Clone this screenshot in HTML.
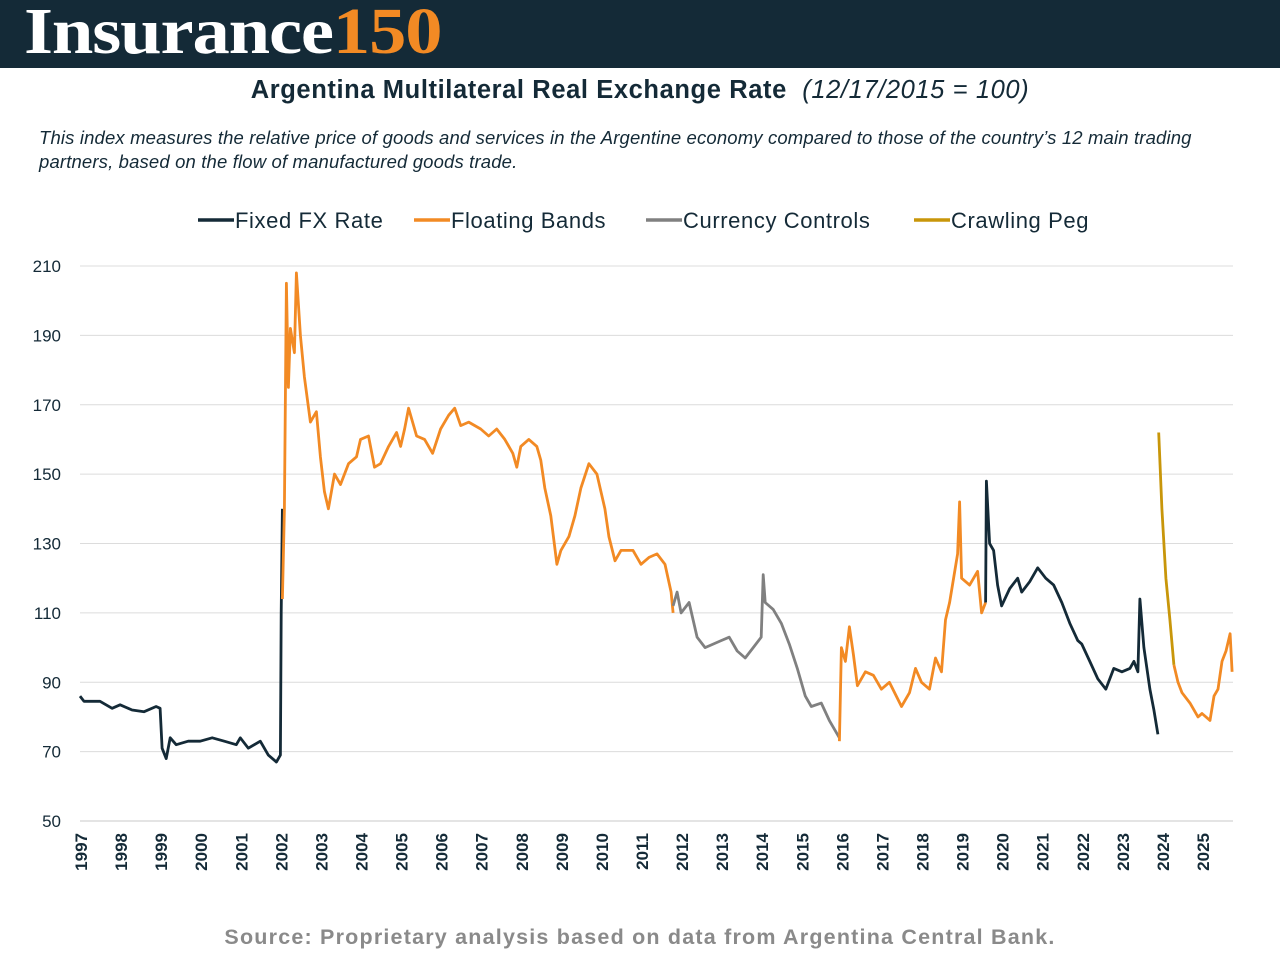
<!DOCTYPE html>
<html><head><meta charset="utf-8">
<style>
body{margin:0;width:1280px;height:960px;background:#fff;font-family:"Liberation Sans",sans-serif;overflow:hidden}
#hdr{position:absolute;left:0;top:0;width:1280px;height:68px;background:#142a37}
#logo{position:absolute;left:24px;top:-6px;font-family:"Liberation Serif",serif;font-weight:bold;font-size:66px;color:#fff;letter-spacing:-1px;transform:scaleX(1.13);transform-origin:left top}
#logo span{color:#f28a24}
#title{position:absolute;top:76px;left:0;width:1280px;text-align:center;font-size:25.5px;font-weight:bold;color:#142a37;letter-spacing:0.6px}
#title i{font-weight:normal}
#desc{position:absolute;top:126px;left:39px;width:1230px;font-size:18.5px;font-style:italic;color:#142a37;line-height:24px;letter-spacing:0.15px}
#src{position:absolute;top:925px;left:0;width:1280px;text-align:center;font-size:21.5px;font-weight:bold;color:#8a8a8a;letter-spacing:1.2px}
svg{position:absolute;left:0;top:0}
</style></head><body>
<div id="hdr"><div id="logo">Insurance<span>150</span></div></div>
<div id="title">Argentina Multilateral Real Exchange Rate &nbsp;<i>(12/17/2015 = 100)</i></div>
<div id="desc">This index measures the relative price of goods and services in the Argentine economy compared to those of the country’s 12 main trading<br>partners, based on the flow of manufactured goods trade.</div>
<svg id="chart" width="1280" height="960"></svg>
<div id="src">Source: Proprietary analysis based on data from Argentina Central Bank.</div>
<script>
const yTicks=[50,70,90,110,130,150,170,190,210];
const years=[1997,1998,1999,2000,2001,2002,2003,2004,2005,2006,2007,2008,2009,2010,2011,2012,2013,2014,2015,2016,2017,2018,2019,2020,2021,2022,2023,2024,2025];
const legendNames=["Fixed FX Rate","Floating Bands","Currency Controls","Crawling Peg"];
const colors=["#142a37","#f28a24","#808080","#c8960a"];
const seg1Dates=[1997.0,1997.1,1997.5,1997.8,1998.0,1998.3,1998.6,1998.9,1999.0,1999.05,1999.15,1999.25,1999.4,1999.7,2000.0,2000.3,2000.6,2000.9,2001.0,2001.2,2001.5,2001.7,2001.9,2002.0,2002.02,2002.05];
const seg1Vals=[86,84.5,84.5,82.5,83.5,82,81.5,83,82.5,71,68,74,72,73,73,74,73,72,74,71,73,69,67,69,110,140];
const seg2Dates=[2002.05,2002.1,2002.15,2002.2,2002.25,2002.35,2002.4,2002.5,2002.6,2002.75,2002.9,2003.0,2003.1,2003.2,2003.35,2003.5,2003.7,2003.9,2004.0,2004.2,2004.35,2004.5,2004.7,2004.9,2005.0,2005.1,2005.2,2005.4,2005.6,2005.8,2006.0,2006.2,2006.35,2006.5,2006.7,2007.0,2007.2,2007.4,2007.6,2007.8,2007.9,2008.0,2008.2,2008.4,2008.5,2008.6,2008.75,2008.9,2009.0,2009.2,2009.35,2009.5,2009.7,2009.9,2010.1,2010.2,2010.35,2010.5,2010.8,2011.0,2011.2,2011.4,2011.6,2011.75,2011.8];
const seg2Vals=[114,140,205,175,192,185,208,190,178,165,168,155,145,140,150,147,153,155,160,161,152,153,158,162,158,163,169,161,160,156,163,167,169,164,165,163,161,163,160,156,152,158,160,158,154,146,138,124,128,132,138,146,153,150,140,132,125,128,128,124,126,127,124,116,110];
const seg3Dates=[2011.8,2011.9,2012.0,2012.2,2012.4,2012.6,2012.8,2013.0,2013.2,2013.4,2013.6,2013.8,2014.0,2014.05,2014.1,2014.3,2014.5,2014.7,2014.9,2015.1,2015.25,2015.5,2015.7,2015.95];
const seg3Vals=[112,116,110,113,103,100,101,102,103,99,97,100,103,121,113,111,107,101,94,86,83,84,79,74];
const seg4Dates=[2015.95,2016.0,2016.1,2016.2,2016.3,2016.4,2016.6,2016.8,2017.0,2017.2,2017.5,2017.7,2017.85,2018.0,2018.2,2018.35,2018.5,2018.6,2018.7,2018.9,2018.95,2019.0,2019.2,2019.4,2019.5,2019.6];
const seg4Vals=[73,100,96,106,98,89,93,92,88,90,83,87,94,90,88,97,93,108,113,127,142,120,118,122,110,113];
const seg5Dates=[2019.6,2019.62,2019.7,2019.8,2019.9,2020.0,2020.2,2020.4,2020.5,2020.7,2020.9,2021.1,2021.3,2021.5,2021.7,2021.9,2022.0,2022.2,2022.4,2022.6,2022.8,2023.0,2023.2,2023.3,2023.4,2023.45,2023.55,2023.7,2023.8,2023.9];
const seg5Vals=[113,148,130,128,118,112,117,120,116,119,123,120,118,113,107,102,101,96,91,88,94,93,94,96,93,114,100,88,82,75];
const seg6Dates=[2023.92,2024.0,2024.1,2024.2,2024.3];
const seg6Vals=[162,140,120,108,95];
const seg7Dates=[2024.3,2024.4,2024.5,2024.7,2024.9,2025.0,2025.2,2025.3,2025.4,2025.5,2025.6,2025.7,2025.75];
const seg7Vals=[95,90,87,84,80,81,79,86,88,96,99,104,93];

const svg=document.getElementById('chart');const NS="http://www.w3.org/2000/svg";
const X0=80,X1=1233,Y50=821,Y210=266;
const x=d=>X0+(d-1997)*(1202-80)/28;
const y=v=>Y50+(v-50)*(Y210-Y50)/160;
function mk(t,a){const e=document.createElementNS(NS,t);for(const k in a)e.setAttribute(k,a[k]);svg.appendChild(e);return e;}
yTicks.forEach(v=>{
 if(v>50){const g=mk('line',{x1:X0,x2:X1,y1:y(v),y2:y(v),stroke:'#dcdcdc','stroke-width':1});
 
 }
 const t=mk('text',{x:61,y:y(v)+6,'text-anchor':'end','font-size':17,fill:'#142a37','font-family':'Liberation Sans'});t.textContent=v;
 
 
});
const ax=mk('line',{x1:X0,x2:X1,y1:Y50,y2:Y50,stroke:'#c8c8c8','stroke-width':1});


years.forEach(yr=>{
 const t=mk('text',{x:0,y:0,'text-anchor':'end','font-size':17,'font-weight':'bold',fill:'#142a37',transform:`translate(${x(yr)+7},833) rotate(-90)`});t.textContent=yr;
 
 
});
const segs=[[seg1Dates,seg1Vals,0],[seg2Dates,seg2Vals,1],[seg3Dates,seg3Vals,2],[seg4Dates,seg4Vals,1],[seg5Dates,seg5Vals,0],[seg6Dates,seg6Vals,3],[seg7Dates,seg7Vals,1]];
segs.forEach((s,i)=>{
 const d=s[0].map((dt,j)=>(j?'L':'M')+x(dt).toFixed(1)+','+y(s[1][j]).toFixed(1)).join('');
 const p=mk('path',{d:d,fill:'none',stroke:colors[s[2]],'stroke-width':2.8,'stroke-linejoin':'round'});
 
 
});
const lx=[198,414,646,914];
legendNames.forEach((n,i)=>{
 const l=mk('line',{x1:lx[i],x2:lx[i]+36,y1:220,y2:220,stroke:colors[i],'stroke-width':3.5});
 
 
 const t=mk('text',{x:lx[i]+37,y:228,'font-size':22,fill:'#142a37','letter-spacing':0.6});t.textContent=n;
 
 
});
</script>
</body></html>
